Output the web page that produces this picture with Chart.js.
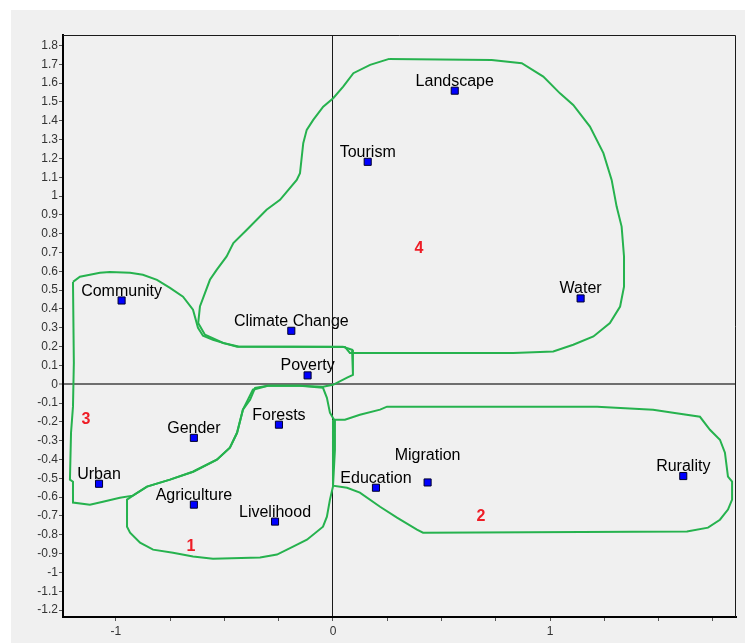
<!DOCTYPE html>
<html>
<head>
<meta charset="utf-8">
<style>
  html, body { margin: 0; padding: 0; background: #fff; }
  #plot { display: block; }
</style>
<script src="https://cdn.jsdelivr.net/npm/chart.js@4/dist/chart.umd.min.js"></script>
</head>
<body>
<canvas id="plot" width="745" height="643"></canvas>
<script>
// term positions on the two dimensions
const termNames = ['Landscape', 'Tourism', 'Water', 'Community', 'Climate Change', 'Poverty', 'Forests',
  'Gender', 'Urban', 'Agriculture', 'Livelihood', 'Education', 'Migration', 'Rurality'];
const termX = [0.561, 0.160, 1.141, -0.974, -0.192, -0.117, -0.249, -0.641, -1.078, -0.641, -0.267, 0.198, 0.436, 1.614];
const termY = [1.560, 1.182, 0.456, 0.445, 0.284, 0.047, -0.215, -0.285, -0.529, -0.640, -0.730, -0.550, -0.522, -0.488];

// cluster numbers
const clusterNums = ['1', '2', '3', '4'];
const clusterNumX = [-0.654, 0.682, -1.138, 0.396];
const clusterNumY = [-0.861, -0.702, -0.189, 0.720];

// cluster outlines
const outline1X = [-0.392, -0.369, -0.300, -0.152, -0.046, -0.028, -0.014, 0.005, 0.009, 0.000, -0.014, -0.028, -0.046,
  -0.120, -0.184, -0.258, -0.336, -0.553, -0.645, -0.737, -0.829, -0.889, -0.935, -0.949, -0.949, -0.922, -0.857,
  -0.751, -0.645, -0.535, -0.475, -0.442, -0.415];
const outline1Y = [-0.082, -0.029, -0.008, -0.008, -0.019, -0.072, -0.151, -0.189, -0.348, -0.544, -0.613, -0.704, -0.757,
  -0.826, -0.863, -0.905, -0.921, -0.927, -0.916, -0.895, -0.879, -0.842, -0.789, -0.757, -0.613, -0.592, -0.544,
  -0.507, -0.465, -0.401, -0.337, -0.258, -0.135];

const outline2X = [0.000, 0.055, 0.124, 0.217, 0.249, 1.217, 1.475, 1.567, 1.691, 1.737, 1.783, 1.806, 1.820, 1.839,
  1.839, 1.820, 1.783, 1.728, 1.631, 0.415, 0.387, 0.295, 0.217, 0.124, 0.065, 0.000];
const outline2Y = [-0.189, -0.189, -0.162, -0.135, -0.119, -0.119, -0.135, -0.151, -0.173, -0.242, -0.295, -0.364, -0.491,
  -0.518, -0.613, -0.666, -0.720, -0.762, -0.783, -0.789, -0.773, -0.709, -0.651, -0.576, -0.550, -0.539];

const outline3X = [-1.198, -1.166, -1.120, -1.074, -1.028, -0.935, -0.876, -0.811, -0.751, -0.691, -0.645, -0.622, -0.599,
  -0.553, -0.507, -0.442, 0.046, 0.088, 0.092, 0.092, 0.065, 0.000, -0.046, -0.152, -0.300, -0.359, -0.382, -0.415,
  -0.442, -0.475, -0.535, -0.645, -0.751, -0.857, -0.922, -0.982, -1.060, -1.120, -1.198, -1.198, -1.212, -1.207,
  -1.198, -1.194];
const outline3Y = [0.544, 0.571, 0.582, 0.592, 0.597, 0.592, 0.582, 0.555, 0.512, 0.465, 0.396, 0.300, 0.258,
  0.236, 0.220, 0.199, 0.199, 0.183, 0.146, 0.050, 0.035, -0.003, -0.013, -0.008, -0.008, -0.019, -0.082, -0.135,
  -0.258, -0.337, -0.401, -0.465, -0.507, -0.544, -0.592, -0.603, -0.624, -0.640, -0.629, -0.518, -0.507, -0.258,
  -0.119, 0.114];

const outline4X = [0.259, 0.731, 0.870, 0.969, 1.046, 1.107, 1.184, 1.246, 1.284, 1.307, 1.330, 1.341, 1.341, 1.323,
  1.276, 1.200, 1.107, 1.015, 0.831, 0.078, 0.055, -0.436, -0.506, -0.590, -0.621, -0.613, -0.590, -0.567, -0.536,
  -0.490, -0.459, -0.398, -0.306, -0.244, -0.167, -0.152, -0.137, -0.121, -0.091, -0.045, 0.001, 0.047, 0.094, 0.171];
const outline4Y = [1.729, 1.723, 1.706, 1.635, 1.546, 1.484, 1.369, 1.228, 1.086, 0.944, 0.838, 0.679, 0.519, 0.413,
  0.325, 0.254, 0.210, 0.174, 0.166, 0.166, 0.198, 0.201, 0.219, 0.263, 0.325, 0.413, 0.484, 0.555, 0.608,
  0.679, 0.750, 0.820, 0.927, 0.980, 1.086, 1.122, 1.281, 1.352, 1.405, 1.475, 1.520, 1.582, 1.653, 1.697];

// axis ticks
const xTicks = [-1, -0.75, -0.5, -0.25, 0, 0.25, 0.5, 0.75, 1, 1.25, 1.5, 1.75];
const yTicks = [-1.2, -1.1, -1, -0.9, -0.8, -0.7, -0.6, -0.5, -0.4, -0.3, -0.2, -0.1, 0, 0.1, 0.2, 0.3, 0.4,
  0.5, 0.6, 0.7, 0.8, 0.9, 1, 1.1, 1.2, 1.3, 1.4, 1.5, 1.6, 1.7, 1.8];

const FONT = '"Liberation Sans", Arial, sans-serif';
const OUTLINE_COLOR = 'rgb(38, 178, 78)';
// labels that sit higher to stay clear of a neighbour
const labelLift = { Migration: 22 };

function toPoints(xs, ys, closed) {
  const pts = xs.map((x, i) => ({ x, y: ys[i] }));
  if (closed) pts.push({ x: xs[0], y: ys[0] });
  return pts;
}

function outlineDataset(xs, ys) {
  return {
    data: toPoints(xs, ys, true),
    showLine: true,
    borderColor: OUTLINE_COLOR,
    borderWidth: 2,
    pointRadius: 0,
    tension: 0,
    fill: false,
    order: 1
  };
}

const backgroundPlugin = {
  id: 'panelBackground',
  beforeDraw(chart) {
    const { ctx, width, height } = chart;
    ctx.save();
    ctx.fillStyle = '#ffffff';
    ctx.fillRect(0, 0, width, height);
    ctx.fillStyle = '#f0f0f0';
    ctx.fillRect(11, 10, width - 11, height - 10);
    ctx.restore();
  }
};

const framePlugin = {
  id: 'frame',
  afterDraw(chart) {
    const { ctx, chartArea } = chart;
    ctx.save();
    ctx.strokeStyle = '#1a1a1a';
    ctx.lineWidth = 1;
    ctx.beginPath();
    ctx.moveTo(chartArea.left, chartArea.top + 0.5);
    ctx.lineTo(chartArea.right - 0.5, chartArea.top + 0.5);
    ctx.lineTo(chartArea.right - 0.5, chartArea.bottom);
    ctx.stroke();
    ctx.restore();
  }
};

const labelPlugin = {
  id: 'termLabels',
  afterDatasetsDraw(chart) {
    const { ctx } = chart;
    const xs = chart.scales.x;
    const ys = chart.scales.y;
    ctx.save();
    ctx.font = '16px ' + FONT;
    ctx.fillStyle = '#000';
    ctx.textAlign = 'center';
    ctx.textBaseline = 'alphabetic';
    termNames.forEach((name, i) => {
      const lift = labelLift[name] || 5;
      ctx.fillText(name, xs.getPixelForValue(termX[i]), ys.getPixelForValue(termY[i]) - lift);
    });
    ctx.font = 'bold 16px ' + FONT;
    ctx.fillStyle = '#ee1c25';
    ctx.textBaseline = 'middle';
    clusterNums.forEach((num, i) => {
      ctx.fillText(num, xs.getPixelForValue(clusterNumX[i]), ys.getPixelForValue(clusterNumY[i]));
    });
    ctx.restore();
  }
};

const isZero = (c) => c.tick && c.tick.value === 0;

new Chart(document.getElementById('plot'), {
  type: 'scatter',
  data: {
    datasets: [
      {
        data: toPoints(termX, termY, false),
        pointStyle: 'rect',
        pointRadius: 5,
        backgroundColor: '#0000ff',
        borderColor: '#00002a',
        borderWidth: 1,
        order: 0
      },
      outlineDataset(outline1X, outline1Y),
      outlineDataset(outline2X, outline2Y),
      outlineDataset(outline3X, outline3Y),
      outlineDataset(outline4X, outline4Y)
    ]
  },
  options: {
    responsive: false,
    animation: false,
    events: [],
    layout: { padding: { left: 11, top: 35, right: 9, bottom: 0 } },
    plugins: {
      legend: { display: false },
      tooltip: { enabled: false }
    },
    scales: {
      x: {
        type: 'linear',
        min: -1.244,
        max: 1.857,
        afterBuildTicks: (axis) => { axis.ticks = xTicks.map((v) => ({ value: v })); },
        afterFit: (axis) => { axis.height = 26; },
        border: { color: '#000', width: 2 },
        grid: {
          color: (c) => (isZero(c) ? '#1a1a1a' : 'rgba(0,0,0,0)'),
          lineWidth: 1,
          tickColor: '#555',
          tickWidth: 1,
          tickLength: 4
        },
        ticks: {
          autoSkip: false,
          maxRotation: 0,
          padding: 3,
          color: '#333',
          font: { family: FONT, size: 12 },
          callback: (v) => (Number.isInteger(v) ? String(v) : '')
        }
      },
      y: {
        type: 'linear',
        min: -1.237,
        max: 1.856,
        afterBuildTicks: (axis) => { axis.ticks = yTicks.map((v) => ({ value: v })); },
        afterFit: (axis) => { axis.width = 52; },
        border: { color: '#000', width: 2 },
        grid: {
          color: (c) => (isZero(c) ? '#6e6e6e' : 'rgba(0,0,0,0)'),
          lineWidth: (c) => (isZero(c) ? 2 : 1),
          tickColor: '#555',
          tickWidth: 1,
          tickLength: 4
        },
        ticks: {
          autoSkip: false,
          padding: 1,
          color: '#333',
          font: { family: FONT, size: 12 },
          callback: (v) => String(v)
        }
      }
    }
  },
  plugins: [backgroundPlugin, framePlugin, labelPlugin]
});
</script>
</body>
</html>
